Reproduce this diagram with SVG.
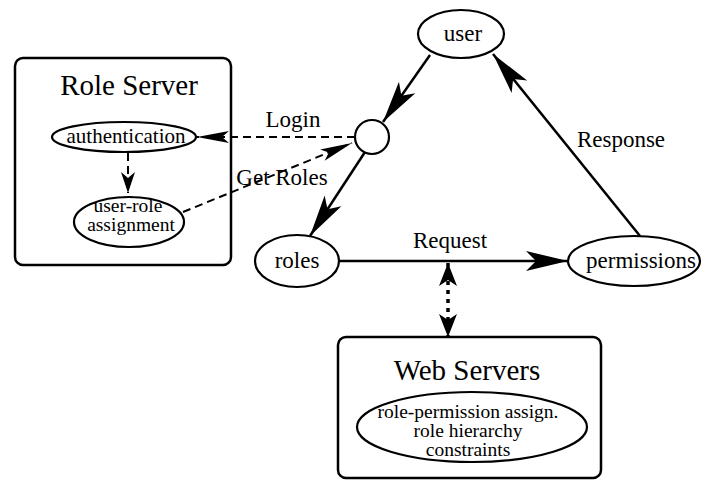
<svg xmlns="http://www.w3.org/2000/svg" width="704" height="483" viewBox="0 0 704 483">
<style>
text { font-family: "Liberation Serif", "Times New Roman", serif; fill: #000; text-anchor: middle; }
.lbl { font-size: 23px; }
.in { font-size: 21px; }
.in2 { font-size: 19.5px; }
.title { font-size: 29px; }
.box { fill: #fff; stroke: #000; stroke-width: 2.5; }
.node { fill: #fff; stroke: #000; stroke-width: 2.2; }
.solid { fill: none; stroke: #000; stroke-width: 2.5; }
.dash { fill: none; stroke: #000; stroke-width: 2; stroke-dasharray: 8 5; }
.dot { fill: none; stroke: #000; stroke-width: 3.5; stroke-dasharray: 4 5; }
</style>
<defs>
<marker id="big" viewBox="-44 -11 46 22" markerWidth="46" markerHeight="22" refX="0" refY="0" orient="auto" markerUnits="userSpaceOnUse">
<path d="M0,0 L-42,-10 L-32,0 L-42,10 Z" fill="#000"/>
</marker>
<marker id="mid" viewBox="-36 -8 38 16" markerWidth="38" markerHeight="16" refX="0" refY="0" orient="auto" markerUnits="userSpaceOnUse">
<path d="M0,0 L-32,-6 L-25,0 L-32,6 Z" fill="#000"/>
</marker>
<marker id="small" viewBox="-26 -10 28 20" markerWidth="28" markerHeight="20" refX="0" refY="0" orient="auto-start-reverse" markerUnits="userSpaceOnUse">
<path d="M0,0 L-23,-9 L-17,0 L-23,9 Z" fill="#000"/>
</marker>
<marker id="tiny" viewBox="-24 -9 26 18" markerWidth="26" markerHeight="18" refX="0" refY="0" orient="auto" markerUnits="userSpaceOnUse">
<path d="M0,0 L-21,-7 L-15,0 L-21,7 Z" fill="#000"/>
</marker>
</defs>

<g id="role-server">
<rect class="box" x="15" y="58" width="216" height="207" rx="8"/>
<text class="title" x="129" y="95">Role Server</text>
</g>
<g id="web-servers">
<rect class="box" x="338" y="337" width="263" height="141" rx="8"/>
<text class="title" x="467" y="380">Web Servers</text>
</g>

<g id="connectors">
<line class="solid" x1="430" y1="55" x2="383" y2="122" marker-end="url(#big)"/>
<line class="solid" x1="365" y1="152" x2="310" y2="236" marker-end="url(#big)"/>
<line class="solid" x1="339" y1="261" x2="568" y2="261" marker-end="url(#big)"/>
<line class="solid" x1="640" y1="236" x2="493" y2="54" marker-end="url(#big)"/>
<line class="dash" x1="355" y1="137" x2="197" y2="137" marker-end="url(#mid)"/>
<line class="dash" x1="183" y1="212" x2="352" y2="143" marker-end="url(#mid)"/>
<line class="dash" x1="128" y1="153" x2="128" y2="193" marker-end="url(#tiny)"/>
<line class="dot" x1="448" y1="263" x2="448" y2="337" marker-start="url(#small)" marker-end="url(#small)"/>
<text class="lbl" x="293" y="127">Login</text>
<text class="lbl" x="282" y="185">Get Roles</text>
<text class="lbl" x="621" y="147">Response</text>
<text class="lbl" x="450" y="248">Request</text>
</g>

<g id="user">
<ellipse class="node" cx="461" cy="34" rx="43" ry="24"/>
<text class="lbl" x="463" y="41">user</text>
</g>
<g id="hub">
<circle class="node" cx="372" cy="137" r="17"/>
</g>
<g id="roles">
<ellipse class="node" cx="297" cy="261" rx="42" ry="26"/>
<text class="lbl" x="297" y="268">roles</text>
</g>
<g id="permissions">
<ellipse class="node" cx="634" cy="261" rx="66" ry="25"/>
<text class="lbl" x="641" y="268">permissions</text>
</g>
<g id="authentication">
<ellipse class="node" cx="124" cy="137" rx="72" ry="15"/>
<text class="in" x="126" y="143">authentication</text>
</g>
<g id="user-role-assignment">
<ellipse class="node" cx="129" cy="222" rx="55" ry="25"/>
<text class="in2" x="128" y="212">user-role</text>
<text class="in2" x="131" y="231">assignment</text>
</g>
<g id="web-server-functions">
<ellipse class="node" cx="472" cy="427" rx="115" ry="35"/>
<text class="in2" x="468" y="418">role-permission assign.</text>
<text class="in2" x="468" y="437">role hierarchy</text>
<text class="in2" x="468" y="456">constraints</text>
</g>
</svg>
